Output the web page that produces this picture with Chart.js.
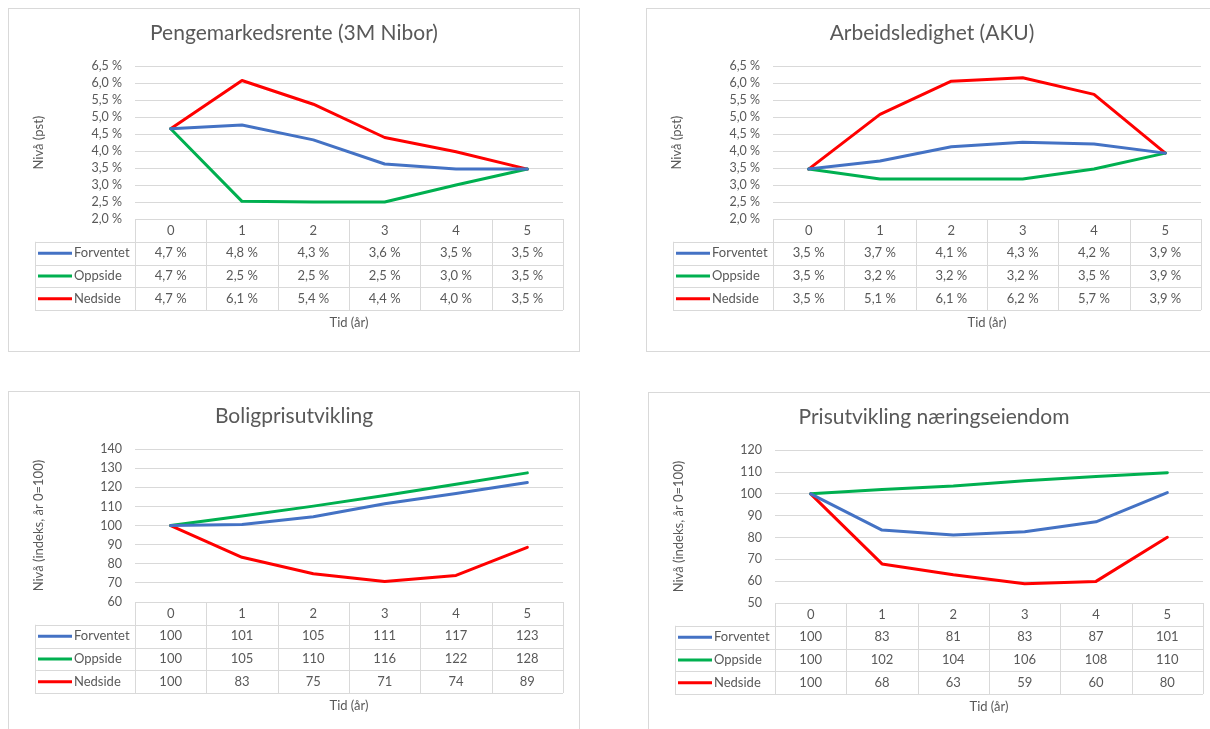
<!DOCTYPE html>
<html lang="no">
<head>
<meta charset="utf-8">
<title>Scenarioer</title>
<script src="https://cdn.jsdelivr.net/npm/chart.js@4.4.0/dist/chart.umd.min.js"></script>
<style>
  html, body { margin: 0; padding: 0; background: #fff; overflow: hidden; }
  body { width: 1210px; height: 729px; position: relative; }
  .panel { position: absolute; width: 572px; height: 344px; border: 1px solid #d9d9d9; box-sizing: border-box; background: #fff; }
  .panel canvas { position: absolute; left: 0; top: 0; }
</style>
</head>
<body>
<div class="panel" style="left:8px; top:8px;"><canvas id="renteChart" width="570" height="342"></canvas></div>
<div class="panel" style="left:646px; top:8px;"><canvas id="ledighetChart" width="570" height="342"></canvas></div>
<div class="panel" style="left:8px; top:391px;"><canvas id="boligChart" width="570" height="342"></canvas></div>
<div class="panel" style="left:648px; top:392px;"><canvas id="naeringChart" width="570" height="342"></canvas></div>

<script>
// Tid (år)
const years = ['0', '1', '2', '3', '4', '5'];
const seriesNames = ['Forventet', 'Oppside', 'Nedside'];
const seriesColors = ['#4472C4', '#00B050', '#FF0000'];

// Pengemarkedsrente (3M Nibor), pst
const renteForventet = [4.66, 4.77, 4.33, 3.62, 3.47, 3.47];
const renteOppside   = [4.66, 2.52, 2.5, 2.5, 3.0, 3.47];
const renteNedside   = [4.66, 6.08, 5.38, 4.4, 3.98, 3.47];

// Arbeidsledighet (AKU), pst
const ledighetForventet = [3.47, 3.71, 4.13, 4.26, 4.21, 3.94];
const ledighetOppside   = [3.47, 3.18, 3.18, 3.18, 3.47, 3.94];
const ledighetNedside   = [3.47, 5.08, 6.06, 6.16, 5.67, 3.94];

// Boligprisutvikling, indeks år 0 = 100
const boligForventet = [100, 100.6, 104.6, 111.4, 116.8, 122.6];
const boligOppside   = [100, 105, 110.2, 115.8, 121.6, 127.6];
const boligNedside   = [100, 83.4, 74.8, 70.7, 73.9, 88.6];

// Prisutvikling næringseiendom, indeks år 0 = 100
const naeringForventet = [100, 83.4, 81.2, 82.6, 87.2, 100.6];
const naeringOppside   = [100, 102, 103.6, 106, 108, 109.7];
const naeringNedside   = [100, 67.9, 62.9, 58.8, 59.9, 80.1];

const textColor = '#595959';
const lineColor = '#d9d9d9';
const fontFamily = 'Lato, "Open Sans", sans-serif';

Chart.defaults.font.family = fontFamily;
Chart.defaults.font.size = 13;
Chart.defaults.color = textColor;

const fmtPct = v => v.toFixed(1).replace('.', ',') + ' %';
const fmtIndex = v => String(Math.round(v));

// Datatabell under grafen (som i Excel)
const dataTablePlugin = {
  id: 'dataTable',
  afterDraw(chart, args, opts) {
    const { ctx, chartArea } = chart;
    const { left, right, bottom } = chartArea;
    const rowH = opts.rowHeight;
    const nCols = chart.data.labels.length;
    const colW = (right - left) / nCols;
    const legendLeft = opts.legendLeft;
    const nRows = chart.data.datasets.length;
    const px = v => Math.round(v) + 0.5;

    ctx.save();
    ctx.strokeStyle = lineColor;
    ctx.lineWidth = 1;
    ctx.beginPath();
    // topplinje over kolonneoverskrifter
    ctx.moveTo(left, px(bottom));
    ctx.lineTo(right, px(bottom));
    // radlinjer
    for (let r = 1; r <= nRows + 1; r++) {
      const y = px(bottom + r * rowH);
      ctx.moveTo(legendLeft, y);
      ctx.lineTo(right, y);
    }
    // kolonnelinjer
    for (let c = 0; c <= nCols; c++) {
      const x = px(left + c * colW);
      ctx.moveTo(x, bottom);
      ctx.lineTo(x, bottom + (nRows + 1) * rowH);
    }
    ctx.moveTo(px(legendLeft), bottom + rowH);
    ctx.lineTo(px(legendLeft), bottom + (nRows + 1) * rowH);
    ctx.stroke();

    ctx.font = '13px ' + fontFamily;
    ctx.textBaseline = 'middle';
    chart.data.datasets.forEach((ds, r) => {
      const yMid = bottom + (r + 1.5) * rowH;
      // forklaring
      ctx.strokeStyle = ds.borderColor;
      ctx.lineWidth = 3;
      ctx.beginPath();
      ctx.moveTo(legendLeft + 3, yMid);
      ctx.lineTo(legendLeft + 37, yMid);
      ctx.stroke();
      ctx.fillStyle = textColor;
      ctx.textAlign = 'left';
      ctx.fillText(ds.label, legendLeft + 39, yMid);
      // verdier
      ctx.textAlign = 'center';
      ds.data.forEach((v, i) => {
        ctx.fillText(opts.format(v), chart.scales.x.getPixelForValue(i), yMid);
      });
    });
    ctx.restore();
  }
};

function makeChart(canvasId, title, yTitle, values, yMin, yMax, step, format) {
  const ctx = document.getElementById(canvasId).getContext('2d');
  return new Chart(ctx, {
    type: 'line',
    data: {
      labels: years,
      datasets: values.map((data, i) => ({
        label: seriesNames[i],
        data: data,
        borderColor: seriesColors[i],
        backgroundColor: seriesColors[i],
        borderWidth: 3,
        pointRadius: 0,
        tension: 0,
        borderJoinStyle: 'round',
        borderCapStyle: 'round'
      }))
    },
    options: {
      responsive: false,
      animation: false,
      layout: { padding: { left: 16, right: 16, top: 0, bottom: 0 } },
      plugins: {
        legend: { display: false },
        tooltip: { enabled: false },
        title: {
          display: true,
          text: title,
          color: textColor,
          font: { size: 21, weight: 'normal' },
          padding: { top: 12, bottom: 20 }
        },
        dataTable: { rowHeight: 22.75, legendLeft: 26, format: format }
      },
      scales: {
        x: {
          type: 'category',
          offset: true,
          grid: { display: false, drawTicks: false },
          border: { display: false },
          ticks: { padding: 4, color: textColor, maxRotation: 0 },
          title: {
            display: true,
            text: 'Tid (år)',
            color: textColor,
            font: { size: 13 },
            padding: { top: 76, bottom: 20 }
          },
          afterFit: s => { s.height = 132; }
        },
        y: {
          min: yMin,
          max: yMax,
          grid: { color: lineColor, drawTicks: false },
          border: { display: false },
          ticks: {
            stepSize: step,
            autoSkip: false,
            padding: 13,
            color: textColor,
            font: { size: 12.5 },
            callback: v => step < 1 ? fmtPct(v) : String(v)
          },
          title: {
            display: true,
            text: yTitle,
            color: textColor,
            font: { size: 13 },
            padding: { top: 6, bottom: 0 }
          },
          afterFit: s => { s.width = 110; }
        }
      }
    },
    plugins: [dataTablePlugin]
  });
}

makeChart('renteChart', 'Pengemarkedsrente (3M Nibor)', 'Nivå (pst)',
  [renteForventet, renteOppside, renteNedside], 2.0, 6.5, 0.5, fmtPct);
makeChart('ledighetChart', 'Arbeidsledighet (AKU)', 'Nivå (pst)',
  [ledighetForventet, ledighetOppside, ledighetNedside], 2.0, 6.5, 0.5, fmtPct);
makeChart('boligChart', 'Boligprisutvikling', 'Nivå (indeks, år 0=100)',
  [boligForventet, boligOppside, boligNedside], 60, 140, 10, fmtIndex);
makeChart('naeringChart', 'Prisutvikling næringseiendom', 'Nivå (indeks, år 0=100)',
  [naeringForventet, naeringOppside, naeringNedside], 50, 120, 10, fmtIndex);
</script>
</body>
</html>
